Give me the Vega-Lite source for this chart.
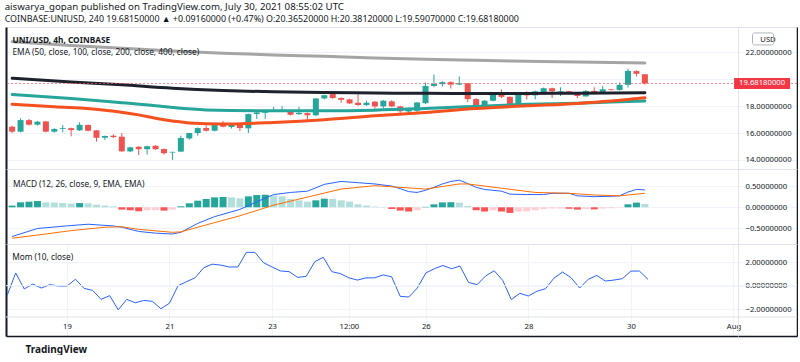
{
  "$schema": "https://vega.github.io/schema/vega-lite/v6.json",
  "background": "white",
  "padding": {"left": 4, "top": 2, "right": 0, "bottom": 0},
  "spacing": 0,
  "bounds": "flush",
  "title": {
    "text": "aiswarya_gopan published on TradingView.com, July 30, 2021 08:55:02 UTC",
    "subtitle": "COINBASE:UNIUSD, 240  19.68150000 ▲ +0.09160000 (+0.47%)  O:20.36520000 H:20.38120000 L:19.59070000 C:19.68180000",
    "anchor": "start", "fontSize": 9.7, "fontWeight": "normal", "color": "#131722",
    "subtitleFontSize": 8.9, "subtitleColor": "#131722", "subtitlePadding": 3, "offset": 2.5
  },
  "datasets": {
    "candles": [
      {"t":"2021-07-17T20:00Z","o":16.47,"h":16.55,"l":16.0,"c":16.1},
      {"t":"2021-07-18T00:00Z","o":16.1,"h":17.1,"l":16.05,"c":16.96},
      {"t":"2021-07-18T04:00Z","o":16.96,"h":17.05,"l":16.55,"c":16.62},
      {"t":"2021-07-18T08:00Z","o":16.62,"h":16.9,"l":16.55,"c":16.84},
      {"t":"2021-07-18T12:00Z","o":16.86,"h":16.9,"l":16.05,"c":16.1},
      {"t":"2021-07-18T16:00Z","o":16.1,"h":16.36,"l":16.02,"c":16.3},
      {"t":"2021-07-18T20:00Z","o":16.3,"h":16.6,"l":16.05,"c":16.36},
      {"t":"2021-07-19T00:00Z","o":16.36,"h":16.4,"l":15.76,"c":16.22},
      {"t":"2021-07-19T04:00Z","o":16.2,"h":16.8,"l":16.15,"c":16.61},
      {"t":"2021-07-19T08:00Z","o":16.6,"h":16.64,"l":16.12,"c":16.17},
      {"t":"2021-07-19T12:00Z","o":16.2,"h":16.22,"l":15.36,"c":15.65},
      {"t":"2021-07-19T16:00Z","o":15.65,"h":15.82,"l":15.48,"c":15.78},
      {"t":"2021-07-19T20:00Z","o":15.8,"h":15.9,"l":15.62,"c":15.7},
      {"t":"2021-07-20T00:00Z","o":15.73,"h":16.0,"l":14.6,"c":14.64},
      {"t":"2021-07-20T04:00Z","o":14.64,"h":14.98,"l":14.58,"c":14.94},
      {"t":"2021-07-20T08:00Z","o":14.98,"h":15.02,"l":14.37,"c":14.8},
      {"t":"2021-07-20T12:00Z","o":14.8,"h":15.06,"l":14.4,"c":15.02},
      {"t":"2021-07-20T16:00Z","o":15.05,"h":15.1,"l":14.75,"c":14.8},
      {"t":"2021-07-20T20:00Z","o":14.81,"h":14.86,"l":14.4,"c":14.5},
      {"t":"2021-07-21T00:00Z","o":14.55,"h":14.62,"l":14.0,"c":14.6},
      {"t":"2021-07-21T04:00Z","o":14.62,"h":15.8,"l":14.58,"c":15.63},
      {"t":"2021-07-21T08:00Z","o":15.6,"h":16.02,"l":15.5,"c":16.0},
      {"t":"2021-07-21T12:00Z","o":16.0,"h":16.42,"l":15.8,"c":16.37},
      {"t":"2021-07-21T16:00Z","o":16.37,"h":16.55,"l":16.12,"c":16.17},
      {"t":"2021-07-21T20:00Z","o":16.17,"h":16.72,"l":16.12,"c":16.67},
      {"t":"2021-07-22T00:00Z","o":16.67,"h":16.9,"l":16.42,"c":16.47},
      {"t":"2021-07-22T04:00Z","o":16.45,"h":16.66,"l":16.33,"c":16.6},
      {"t":"2021-07-22T08:00Z","o":16.65,"h":16.7,"l":16.15,"c":16.37},
      {"t":"2021-07-22T12:00Z","o":16.35,"h":17.45,"l":16.0,"c":17.41},
      {"t":"2021-07-22T16:00Z","o":17.41,"h":17.58,"l":17.04,"c":17.53},
      {"t":"2021-07-22T20:00Z","o":17.5,"h":17.65,"l":17.05,"c":17.6},
      {"t":"2021-07-23T00:00Z","o":17.6,"h":17.95,"l":17.55,"c":17.68},
      {"t":"2021-07-23T04:00Z","o":17.65,"h":18.0,"l":17.6,"c":17.7},
      {"t":"2021-07-23T08:00Z","o":17.68,"h":17.72,"l":17.3,"c":17.36},
      {"t":"2021-07-23T12:00Z","o":17.4,"h":17.95,"l":17.35,"c":17.5},
      {"t":"2021-07-23T16:00Z","o":17.48,"h":17.52,"l":16.9,"c":17.32},
      {"t":"2021-07-23T20:00Z","o":17.32,"h":18.6,"l":17.25,"c":18.57},
      {"t":"2021-07-24T00:00Z","o":18.57,"h":18.85,"l":18.5,"c":18.81},
      {"t":"2021-07-24T04:00Z","o":18.89,"h":19.05,"l":18.55,"c":18.6},
      {"t":"2021-07-24T08:00Z","o":18.6,"h":18.65,"l":18.25,"c":18.47},
      {"t":"2021-07-24T12:00Z","o":18.5,"h":18.55,"l":18.15,"c":18.2},
      {"t":"2021-07-24T16:00Z","o":18.25,"h":18.89,"l":18.02,"c":18.08},
      {"t":"2021-07-24T20:00Z","o":18.08,"h":18.4,"l":18.02,"c":18.25},
      {"t":"2021-07-25T00:00Z","o":18.33,"h":18.38,"l":17.78,"c":17.98},
      {"t":"2021-07-25T04:00Z","o":17.98,"h":18.45,"l":17.85,"c":18.4},
      {"t":"2021-07-25T08:00Z","o":18.35,"h":18.45,"l":17.92,"c":17.98},
      {"t":"2021-07-25T12:00Z","o":17.98,"h":18.02,"l":17.5,"c":17.62},
      {"t":"2021-07-25T16:00Z","o":17.6,"h":17.9,"l":17.5,"c":17.77},
      {"t":"2021-07-25T20:00Z","o":17.65,"h":18.3,"l":17.55,"c":18.27},
      {"t":"2021-07-26T00:00Z","o":18.22,"h":19.75,"l":18.15,"c":19.5},
      {"t":"2021-07-26T04:00Z","o":19.5,"h":20.35,"l":19.4,"c":19.65},
      {"t":"2021-07-26T08:00Z","o":19.63,"h":19.85,"l":19.45,"c":19.78},
      {"t":"2021-07-26T12:00Z","o":19.78,"h":19.85,"l":19.3,"c":19.6},
      {"t":"2021-07-26T16:00Z","o":19.6,"h":20.2,"l":19.55,"c":19.7},
      {"t":"2021-07-26T20:00Z","o":19.7,"h":19.72,"l":18.3,"c":18.52},
      {"t":"2021-07-27T00:00Z","o":18.52,"h":18.6,"l":17.73,"c":18.02},
      {"t":"2021-07-27T04:00Z","o":18.02,"h":18.45,"l":17.95,"c":18.4},
      {"t":"2021-07-27T08:00Z","o":18.4,"h":19.05,"l":18.35,"c":18.99},
      {"t":"2021-07-27T12:00Z","o":18.99,"h":19.24,"l":18.6,"c":18.69},
      {"t":"2021-07-27T16:00Z","o":18.69,"h":18.72,"l":18.05,"c":18.15},
      {"t":"2021-07-27T20:00Z","o":18.15,"h":18.95,"l":18.1,"c":18.89},
      {"t":"2021-07-28T00:00Z","o":18.89,"h":19.1,"l":18.5,"c":18.8},
      {"t":"2021-07-28T04:00Z","o":18.8,"h":19.15,"l":18.5,"c":19.1},
      {"t":"2021-07-28T08:00Z","o":19.05,"h":19.38,"l":19.0,"c":19.33},
      {"t":"2021-07-28T12:00Z","o":19.33,"h":19.38,"l":18.6,"c":19.1},
      {"t":"2021-07-28T16:00Z","o":19.05,"h":19.4,"l":18.75,"c":19.1},
      {"t":"2021-07-28T20:00Z","o":19.1,"h":19.15,"l":18.9,"c":18.95},
      {"t":"2021-07-29T00:00Z","o":18.97,"h":19.0,"l":18.6,"c":18.75},
      {"t":"2021-07-29T04:00Z","o":18.72,"h":19.2,"l":18.7,"c":19.13},
      {"t":"2021-07-29T08:00Z","o":19.13,"h":19.4,"l":18.9,"c":18.95},
      {"t":"2021-07-29T12:00Z","o":18.95,"h":19.5,"l":18.9,"c":19.25},
      {"t":"2021-07-29T16:00Z","o":19.25,"h":19.28,"l":19.15,"c":19.2},
      {"t":"2021-07-29T20:00Z","o":19.2,"h":19.75,"l":19.15,"c":19.58},
      {"t":"2021-07-30T00:00Z","o":19.58,"h":20.78,"l":19.38,"c":20.62},
      {"t":"2021-07-30T04:00Z","o":20.6,"h":20.66,"l":20.2,"c":20.4},
      {"t":"2021-07-30T08:00Z","o":20.3652,"h":20.3812,"l":19.5907,"c":19.6818}
    ],
    "ema": [
      {"t":"2021-07-17T20:00Z","ema":"EMA 400","v":22.78},
      {"t":"2021-07-19T00:00Z","ema":"EMA 400","v":22.5},
      {"t":"2021-07-20T00:00Z","ema":"EMA 400","v":22.3},
      {"t":"2021-07-21T00:00Z","ema":"EMA 400","v":22.1},
      {"t":"2021-07-22T00:00Z","ema":"EMA 400","v":21.93},
      {"t":"2021-07-23T00:00Z","ema":"EMA 400","v":21.8},
      {"t":"2021-07-24T00:00Z","ema":"EMA 400","v":21.7},
      {"t":"2021-07-25T00:00Z","ema":"EMA 400","v":21.58},
      {"t":"2021-07-26T00:00Z","ema":"EMA 400","v":21.48},
      {"t":"2021-07-27T00:00Z","ema":"EMA 400","v":21.4},
      {"t":"2021-07-28T00:00Z","ema":"EMA 400","v":21.33},
      {"t":"2021-07-29T00:00Z","ema":"EMA 400","v":21.27},
      {"t":"2021-07-30T08:00Z","ema":"EMA 400","v":21.21},
      {"t":"2021-07-17T20:00Z","ema":"EMA 200","v":20.07},
      {"t":"2021-07-19T00:00Z","ema":"EMA 200","v":19.8},
      {"t":"2021-07-20T00:00Z","ema":"EMA 200","v":19.58},
      {"t":"2021-07-21T00:00Z","ema":"EMA 200","v":19.33},
      {"t":"2021-07-22T00:00Z","ema":"EMA 200","v":19.16},
      {"t":"2021-07-23T00:00Z","ema":"EMA 200","v":19.06},
      {"t":"2021-07-24T00:00Z","ema":"EMA 200","v":19.01},
      {"t":"2021-07-25T00:00Z","ema":"EMA 200","v":18.97},
      {"t":"2021-07-26T00:00Z","ema":"EMA 200","v":18.95},
      {"t":"2021-07-27T00:00Z","ema":"EMA 200","v":18.94},
      {"t":"2021-07-28T00:00Z","ema":"EMA 200","v":18.94},
      {"t":"2021-07-29T00:00Z","ema":"EMA 200","v":18.96},
      {"t":"2021-07-30T08:00Z","ema":"EMA 200","v":18.99},
      {"t":"2021-07-17T20:00Z","ema":"EMA 100","v":18.87},
      {"t":"2021-07-19T00:00Z","ema":"EMA 100","v":18.57},
      {"t":"2021-07-20T00:00Z","ema":"EMA 100","v":18.25},
      {"t":"2021-07-20T16:00Z","ema":"EMA 100","v":18.03},
      {"t":"2021-07-21T00:00Z","ema":"EMA 100","v":17.9},
      {"t":"2021-07-21T16:00Z","ema":"EMA 100","v":17.72},
      {"t":"2021-07-23T00:00Z","ema":"EMA 100","v":17.65},
      {"t":"2021-07-24T00:00Z","ema":"EMA 100","v":17.65},
      {"t":"2021-07-25T00:00Z","ema":"EMA 100","v":17.7},
      {"t":"2021-07-26T00:00Z","ema":"EMA 100","v":17.83},
      {"t":"2021-07-27T00:00Z","ema":"EMA 100","v":17.98},
      {"t":"2021-07-28T00:00Z","ema":"EMA 100","v":18.13},
      {"t":"2021-07-29T00:00Z","ema":"EMA 100","v":18.22},
      {"t":"2021-07-29T16:00Z","ema":"EMA 100","v":18.3},
      {"t":"2021-07-30T08:00Z","ema":"EMA 100","v":18.38},
      {"t":"2021-07-17T20:00Z","ema":"EMA 50","v":18.13},
      {"t":"2021-07-18T16:00Z","ema":"EMA 50","v":17.95},
      {"t":"2021-07-19T16:00Z","ema":"EMA 50","v":17.7},
      {"t":"2021-07-20T08:00Z","ema":"EMA 50","v":17.35},
      {"t":"2021-07-20T16:00Z","ema":"EMA 50","v":17.1},
      {"t":"2021-07-21T00:00Z","ema":"EMA 50","v":16.9},
      {"t":"2021-07-21T08:00Z","ema":"EMA 50","v":16.75},
      {"t":"2021-07-22T00:00Z","ema":"EMA 50","v":16.67},
      {"t":"2021-07-23T00:00Z","ema":"EMA 50","v":16.79},
      {"t":"2021-07-24T00:00Z","ema":"EMA 50","v":16.99},
      {"t":"2021-07-25T00:00Z","ema":"EMA 50","v":17.28},
      {"t":"2021-07-26T00:00Z","ema":"EMA 50","v":17.53},
      {"t":"2021-07-27T00:00Z","ema":"EMA 50","v":17.83},
      {"t":"2021-07-28T00:00Z","ema":"EMA 50","v":18.02},
      {"t":"2021-07-29T00:00Z","ema":"EMA 50","v":18.2},
      {"t":"2021-07-29T16:00Z","ema":"EMA 50","v":18.38},
      {"t":"2021-07-30T08:00Z","ema":"EMA 50","v":18.62}
    ],
    "macd": [
      {"t":"2021-07-17T20:00Z","h":0.04,"state":"pos up"},
      {"t":"2021-07-18T00:00Z","h":0.117,"state":"pos up"},
      {"t":"2021-07-18T04:00Z","h":0.133,"state":"pos up"},
      {"t":"2021-07-18T08:00Z","h":0.148,"state":"pos up"},
      {"t":"2021-07-18T12:00Z","h":0.117,"state":"pos down"},
      {"t":"2021-07-18T16:00Z","h":0.11,"state":"pos down"},
      {"t":"2021-07-18T20:00Z","h":0.1,"state":"pos down"},
      {"t":"2021-07-19T00:00Z","h":0.086,"state":"pos down"},
      {"t":"2021-07-19T04:00Z","h":0.1,"state":"pos up"},
      {"t":"2021-07-19T08:00Z","h":0.094,"state":"pos down"},
      {"t":"2021-07-19T12:00Z","h":0.063,"state":"pos down"},
      {"t":"2021-07-19T16:00Z","h":0.04,"state":"pos down"},
      {"t":"2021-07-19T20:00Z","h":0.023,"state":"pos down"},
      {"t":"2021-07-20T00:00Z","h":-0.055,"state":"neg down"},
      {"t":"2021-07-20T04:00Z","h":-0.07,"state":"neg down"},
      {"t":"2021-07-20T08:00Z","h":-0.094,"state":"neg down"},
      {"t":"2021-07-20T12:00Z","h":-0.07,"state":"neg up"},
      {"t":"2021-07-20T16:00Z","h":-0.07,"state":"neg up"},
      {"t":"2021-07-20T20:00Z","h":-0.078,"state":"neg down"},
      {"t":"2021-07-21T00:00Z","h":-0.055,"state":"neg up"},
      {"t":"2021-07-21T04:00Z","h":0.023,"state":"pos up"},
      {"t":"2021-07-21T08:00Z","h":0.094,"state":"pos up"},
      {"t":"2021-07-21T12:00Z","h":0.156,"state":"pos up"},
      {"t":"2021-07-21T16:00Z","h":0.195,"state":"pos up"},
      {"t":"2021-07-21T20:00Z","h":0.234,"state":"pos up"},
      {"t":"2021-07-22T00:00Z","h":0.242,"state":"pos up"},
      {"t":"2021-07-22T04:00Z","h":0.234,"state":"pos down"},
      {"t":"2021-07-22T08:00Z","h":0.21,"state":"pos down"},
      {"t":"2021-07-22T12:00Z","h":0.258,"state":"pos up"},
      {"t":"2021-07-22T16:00Z","h":0.289,"state":"pos up"},
      {"t":"2021-07-22T20:00Z","h":0.297,"state":"pos up"},
      {"t":"2021-07-23T00:00Z","h":0.28,"state":"pos down"},
      {"t":"2021-07-23T04:00Z","h":0.258,"state":"pos down"},
      {"t":"2021-07-23T08:00Z","h":0.195,"state":"pos down"},
      {"t":"2021-07-23T12:00Z","h":0.164,"state":"pos down"},
      {"t":"2021-07-23T16:00Z","h":0.133,"state":"pos down"},
      {"t":"2021-07-23T20:00Z","h":0.164,"state":"pos up"},
      {"t":"2021-07-24T00:00Z","h":0.203,"state":"pos up"},
      {"t":"2021-07-24T04:00Z","h":0.195,"state":"pos down"},
      {"t":"2021-07-24T08:00Z","h":0.164,"state":"pos down"},
      {"t":"2021-07-24T12:00Z","h":0.133,"state":"pos down"},
      {"t":"2021-07-24T16:00Z","h":0.07,"state":"pos down"},
      {"t":"2021-07-24T20:00Z","h":0.04,"state":"pos down"},
      {"t":"2021-07-25T00:00Z","h":0.016,"state":"pos down"},
      {"t":"2021-07-25T04:00Z","h":0.008,"state":"pos down"},
      {"t":"2021-07-25T08:00Z","h":-0.04,"state":"neg down"},
      {"t":"2021-07-25T12:00Z","h":-0.078,"state":"neg down"},
      {"t":"2021-07-25T16:00Z","h":-0.1,"state":"neg down"},
      {"t":"2021-07-25T20:00Z","h":-0.07,"state":"neg up"},
      {"t":"2021-07-26T00:00Z","h":0.01,"state":"pos up"},
      {"t":"2021-07-26T04:00Z","h":0.07,"state":"pos up"},
      {"t":"2021-07-26T08:00Z","h":0.115,"state":"pos up"},
      {"t":"2021-07-26T12:00Z","h":0.12,"state":"pos up"},
      {"t":"2021-07-26T16:00Z","h":0.11,"state":"pos down"},
      {"t":"2021-07-26T20:00Z","h":0.03,"state":"pos down"},
      {"t":"2021-07-27T00:00Z","h":-0.07,"state":"neg down"},
      {"t":"2021-07-27T04:00Z","h":-0.1,"state":"neg down"},
      {"t":"2021-07-27T08:00Z","h":-0.07,"state":"neg up"},
      {"t":"2021-07-27T12:00Z","h":-0.1,"state":"neg down"},
      {"t":"2021-07-27T16:00Z","h":-0.133,"state":"neg down"},
      {"t":"2021-07-27T20:00Z","h":-0.1,"state":"neg up"},
      {"t":"2021-07-28T00:00Z","h":-0.098,"state":"neg up"},
      {"t":"2021-07-28T04:00Z","h":-0.07,"state":"neg up"},
      {"t":"2021-07-28T08:00Z","h":-0.04,"state":"neg up"},
      {"t":"2021-07-28T12:00Z","h":-0.03,"state":"neg up"},
      {"t":"2021-07-28T16:00Z","h":-0.028,"state":"neg up"},
      {"t":"2021-07-28T20:00Z","h":-0.035,"state":"neg down"},
      {"t":"2021-07-29T00:00Z","h":-0.055,"state":"neg down"},
      {"t":"2021-07-29T04:00Z","h":-0.04,"state":"neg up"},
      {"t":"2021-07-29T08:00Z","h":-0.05,"state":"neg down"},
      {"t":"2021-07-29T12:00Z","h":-0.03,"state":"neg up"},
      {"t":"2021-07-29T16:00Z","h":-0.023,"state":"neg up"},
      {"t":"2021-07-29T20:00Z","h":-0.01,"state":"neg up"},
      {"t":"2021-07-30T00:00Z","h":0.07,"state":"pos up"},
      {"t":"2021-07-30T04:00Z","h":0.11,"state":"pos up"},
      {"t":"2021-07-30T08:00Z","h":0.078,"state":"pos down"}
    ],
    "lines": [
      {"t":"2021-07-17T20:00Z","s":"MACD","v":-0.69},
      {"t":"2021-07-18T08:00Z","s":"MACD","v":-0.5},
      {"t":"2021-07-19T00:00Z","s":"MACD","v":-0.43},
      {"t":"2021-07-19T08:00Z","s":"MACD","v":-0.4},
      {"t":"2021-07-19T20:00Z","s":"MACD","v":-0.44},
      {"t":"2021-07-20T00:00Z","s":"MACD","v":-0.47},
      {"t":"2021-07-20T08:00Z","s":"MACD","v":-0.57},
      {"t":"2021-07-20T16:00Z","s":"MACD","v":-0.61},
      {"t":"2021-07-21T00:00Z","s":"MACD","v":-0.63},
      {"t":"2021-07-21T04:00Z","s":"MACD","v":-0.59},
      {"t":"2021-07-21T12:00Z","s":"MACD","v":-0.38},
      {"t":"2021-07-21T20:00Z","s":"MACD","v":-0.22},
      {"t":"2021-07-22T08:00Z","s":"MACD","v":-0.05},
      {"t":"2021-07-22T16:00Z","s":"MACD","v":0.13},
      {"t":"2021-07-23T00:00Z","s":"MACD","v":0.3},
      {"t":"2021-07-23T08:00Z","s":"MACD","v":0.35},
      {"t":"2021-07-23T16:00Z","s":"MACD","v":0.38},
      {"t":"2021-07-23T20:00Z","s":"MACD","v":0.46},
      {"t":"2021-07-24T00:00Z","s":"MACD","v":0.54},
      {"t":"2021-07-24T08:00Z","s":"MACD","v":0.61},
      {"t":"2021-07-24T16:00Z","s":"MACD","v":0.58},
      {"t":"2021-07-25T00:00Z","s":"MACD","v":0.55},
      {"t":"2021-07-25T08:00Z","s":"MACD","v":0.5},
      {"t":"2021-07-25T12:00Z","s":"MACD","v":0.44},
      {"t":"2021-07-25T16:00Z","s":"MACD","v":0.37},
      {"t":"2021-07-25T20:00Z","s":"MACD","v":0.35},
      {"t":"2021-07-26T00:00Z","s":"MACD","v":0.4},
      {"t":"2021-07-26T04:00Z","s":"MACD","v":0.47},
      {"t":"2021-07-26T08:00Z","s":"MACD","v":0.55},
      {"t":"2021-07-26T12:00Z","s":"MACD","v":0.61},
      {"t":"2021-07-26T16:00Z","s":"MACD","v":0.64},
      {"t":"2021-07-26T20:00Z","s":"MACD","v":0.56},
      {"t":"2021-07-27T00:00Z","s":"MACD","v":0.47},
      {"t":"2021-07-27T04:00Z","s":"MACD","v":0.42},
      {"t":"2021-07-27T08:00Z","s":"MACD","v":0.4},
      {"t":"2021-07-27T12:00Z","s":"MACD","v":0.38},
      {"t":"2021-07-27T16:00Z","s":"MACD","v":0.31},
      {"t":"2021-07-28T00:00Z","s":"MACD","v":0.3},
      {"t":"2021-07-28T08:00Z","s":"MACD","v":0.3},
      {"t":"2021-07-28T12:00Z","s":"MACD","v":0.33},
      {"t":"2021-07-28T20:00Z","s":"MACD","v":0.33},
      {"t":"2021-07-29T00:00Z","s":"MACD","v":0.27},
      {"t":"2021-07-29T08:00Z","s":"MACD","v":0.25},
      {"t":"2021-07-29T16:00Z","s":"MACD","v":0.26},
      {"t":"2021-07-29T20:00Z","s":"MACD","v":0.27},
      {"t":"2021-07-30T00:00Z","s":"MACD","v":0.36},
      {"t":"2021-07-30T04:00Z","s":"MACD","v":0.42},
      {"t":"2021-07-30T08:00Z","s":"MACD","v":0.41},
      {"t":"2021-07-17T20:00Z","s":"Signal","v":-0.73},
      {"t":"2021-07-18T12:00Z","s":"Signal","v":-0.63},
      {"t":"2021-07-19T00:00Z","s":"Signal","v":-0.55},
      {"t":"2021-07-19T16:00Z","s":"Signal","v":-0.47},
      {"t":"2021-07-20T00:00Z","s":"Signal","v":-0.46},
      {"t":"2021-07-20T08:00Z","s":"Signal","v":-0.52},
      {"t":"2021-07-21T00:00Z","s":"Signal","v":-0.59},
      {"t":"2021-07-21T04:00Z","s":"Signal","v":-0.58},
      {"t":"2021-07-21T12:00Z","s":"Signal","v":-0.47},
      {"t":"2021-07-22T08:00Z","s":"Signal","v":-0.2},
      {"t":"2021-07-23T00:00Z","s":"Signal","v":0.05},
      {"t":"2021-07-23T16:00Z","s":"Signal","v":0.24},
      {"t":"2021-07-24T08:00Z","s":"Signal","v":0.43},
      {"t":"2021-07-25T00:00Z","s":"Signal","v":0.51},
      {"t":"2021-07-25T12:00Z","s":"Signal","v":0.47},
      {"t":"2021-07-26T00:00Z","s":"Signal","v":0.43},
      {"t":"2021-07-26T16:00Z","s":"Signal","v":0.55},
      {"t":"2021-07-26T20:00Z","s":"Signal","v":0.55},
      {"t":"2021-07-27T12:00Z","s":"Signal","v":0.45},
      {"t":"2021-07-28T04:00Z","s":"Signal","v":0.35},
      {"t":"2021-07-28T20:00Z","s":"Signal","v":0.33},
      {"t":"2021-07-29T08:00Z","s":"Signal","v":0.29},
      {"t":"2021-07-29T20:00Z","s":"Signal","v":0.27},
      {"t":"2021-07-30T08:00Z","s":"Signal","v":0.33}
    ],
    "mom": [
      {"t":"2021-07-17T20:00Z","v":-0.85},{"t":"2021-07-18T00:00Z","v":1.09},{"t":"2021-07-18T04:00Z","v":-0.28},
      {"t":"2021-07-18T08:00Z","v":0.14},{"t":"2021-07-18T12:00Z","v":-0.2},{"t":"2021-07-18T16:00Z","v":0.09},
      {"t":"2021-07-18T20:00Z","v":-0.03},{"t":"2021-07-19T00:00Z","v":-0.03},{"t":"2021-07-19T04:00Z","v":0.55},
      {"t":"2021-07-19T08:00Z","v":-0.23},{"t":"2021-07-19T12:00Z","v":-0.4},{"t":"2021-07-19T16:00Z","v":-1.17},
      {"t":"2021-07-19T20:00Z","v":-0.85},{"t":"2021-07-20T00:00Z","v":-2.06},{"t":"2021-07-20T04:00Z","v":-1.17},
      {"t":"2021-07-20T08:00Z","v":-1.46},{"t":"2021-07-20T12:00Z","v":-1.26},{"t":"2021-07-20T16:00Z","v":-1.34},
      {"t":"2021-07-20T20:00Z","v":-1.97},{"t":"2021-07-21T00:00Z","v":-1.49},{"t":"2021-07-21T04:00Z","v":0.0},
      {"t":"2021-07-21T08:00Z","v":0.34},{"t":"2021-07-21T12:00Z","v":0.68},{"t":"2021-07-21T16:00Z","v":1.53},
      {"t":"2021-07-21T20:00Z","v":1.84},{"t":"2021-07-22T00:00Z","v":1.76},{"t":"2021-07-22T04:00Z","v":1.6},
      {"t":"2021-07-22T08:00Z","v":1.6},{"t":"2021-07-22T12:00Z","v":2.85},{"t":"2021-07-22T16:00Z","v":2.85},
      {"t":"2021-07-22T20:00Z","v":1.97},{"t":"2021-07-23T00:00Z","v":1.6},{"t":"2021-07-23T04:00Z","v":1.26},
      {"t":"2021-07-23T08:00Z","v":1.2},{"t":"2021-07-23T12:00Z","v":0.71},{"t":"2021-07-23T16:00Z","v":0.8},
      {"t":"2021-07-23T20:00Z","v":2.05},{"t":"2021-07-24T00:00Z","v":2.43},{"t":"2021-07-24T04:00Z","v":1.2},
      {"t":"2021-07-24T08:00Z","v":1.03},{"t":"2021-07-24T12:00Z","v":0.67},{"t":"2021-07-24T16:00Z","v":0.48},
      {"t":"2021-07-24T20:00Z","v":0.67},{"t":"2021-07-25T00:00Z","v":0.67},{"t":"2021-07-25T04:00Z","v":0.92},
      {"t":"2021-07-25T08:00Z","v":0.76},{"t":"2021-07-25T12:00Z","v":-0.91},{"t":"2021-07-25T16:00Z","v":-0.97},
      {"t":"2021-07-25T20:00Z","v":-0.2},{"t":"2021-07-26T00:00Z","v":1.09},{"t":"2021-07-26T04:00Z","v":1.45},
      {"t":"2021-07-26T08:00Z","v":1.73},{"t":"2021-07-26T12:00Z","v":1.45},{"t":"2021-07-26T16:00Z","v":1.68},
      {"t":"2021-07-26T20:00Z","v":0.28},{"t":"2021-07-27T00:00Z","v":0.09},{"t":"2021-07-27T04:00Z","v":0.83},
      {"t":"2021-07-27T08:00Z","v":1.28},{"t":"2021-07-27T12:00Z","v":0.45},{"t":"2021-07-27T16:00Z","v":-1.19},
      {"t":"2021-07-27T20:00Z","v":-0.65},{"t":"2021-07-28T00:00Z","v":-0.88},{"t":"2021-07-28T04:00Z","v":-0.48},
      {"t":"2021-07-28T08:00Z","v":-0.26},{"t":"2021-07-28T12:00Z","v":0.65},{"t":"2021-07-28T16:00Z","v":1.17},
      {"t":"2021-07-28T20:00Z","v":0.68},{"t":"2021-07-29T00:00Z","v":-0.2},{"t":"2021-07-29T04:00Z","v":0.54},
      {"t":"2021-07-29T08:00Z","v":0.88},{"t":"2021-07-29T12:00Z","v":0.4},{"t":"2021-07-29T16:00Z","v":0.48},
      {"t":"2021-07-29T20:00Z","v":0.6},{"t":"2021-07-30T00:00Z","v":1.25},{"t":"2021-07-30T04:00Z","v":1.25},
      {"t":"2021-07-30T08:00Z","v":0.54}
    ]
  },
  "resolve": {"scale": {"x": "independent", "y": "independent", "color": "independent"}},
  "vconcat": [
    {
      "width": 791, "height": 142,
      "title": {
        "text": "UNI/USD, 4h, COINBASE", "subtitle": "EMA (50, close, 100, close, 200, close, 400, close)",
        "anchor": "start", "offset": -29, "dx": 7, "fontSize": 8.3, "fontWeight": "bold", "color": "#131722",
        "subtitleFontSize": 8.3, "subtitleColor": "#131722", "subtitlePadding": 3
      },
      "resolve": {"axis": {"y": "independent"}},
      "layer": [
        {
          "data": {"name": "candles"},
          "mark": {"type": "rule", "strokeWidth": 1},
          "encoding": {
            "x": {"field": "t", "type": "temporal",
              "scale": {"type": "utc", "domain": [{"year":2021,"month":7,"date":17,"hours":19,"minutes":28,"utc":true},{"year":2021,"month":8,"date":2,"hours":5,"minutes":45,"utc":true}]},
              "axis": {"orient": "top", "values": [{"year":2021,"month":7,"date":19,"utc":true},{"year":2021,"month":7,"date":21,"utc":true},{"year":2021,"month":7,"date":23,"utc":true},{"year":2021,"month":7,"date":24,"hours":12,"utc":true},{"year":2021,"month":7,"date":26,"utc":true},{"year":2021,"month":7,"date":28,"utc":true},{"year":2021,"month":7,"date":30,"utc":true},{"year":2021,"month":8,"date":1,"utc":true}],
                "labels": false, "ticks": false, "domain": true, "domainColor": "#5D606B", "domainWidth": 2, "grid": true, "gridColor": "#F0F3FA", "title": null}},
            "y": {"field": "l", "type": "quantitative", "scale": {"domain": [13.328, 23.878], "zero": false, "nice": false},
              "axis": {"orient": "right", "offset": -59, "values": [14, 16, 18, 20, 22], "format": ".8f",
                "labelExpr": "datum.value == 20 ? '' : datum.label", "ticks": false,
                "labelPadding": 7, "labelAlign": "left", "labelBaseline": "middle", "labelFontSize": 7.7, "labelColor": "#131722",
                "labelOverlap": false, "labelFlush": false, "domain": true, "domainColor": "#E0E3EB", "grid": true, "gridColor": "#F0F3FA",
                "title": "USD", "titleAngle": 0, "titleX": 29.5, "titleY": 12, "titleAlign": "center", "titleBaseline": "middle",
                "titleFontSize": 7.7, "titleFontWeight": "normal", "titleColor": "#131722"}},
            "y2": {"field": "h"},
            "color": {"condition": {"test": "datum.c >= datum.o", "value": "#26A69A"}, "value": "#EF5350"}
          }
        },
        {
          "data": {"name": "candles"},
          "mark": {"type": "bar", "width": 6},
          "encoding": {
            "x": {"field": "t", "type": "temporal", "axis": null},
            "y": {"field": "o", "type": "quantitative", "axis": {"orient": "left", "labels": false, "ticks": false, "grid": false, "domain": true, "domainColor": "#131722", "domainWidth": 2, "title": null}},
            "y2": {"field": "c"},
            "color": {"condition": {"test": "datum.c >= datum.o", "value": "#26A69A"}, "value": "#EF5350"}
          }
        },
        {
          "data": {"name": "ema"},
          "mark": {"type": "line", "strokeWidth": 3, "interpolate": "monotone", "strokeCap": "round"},
          "encoding": {
            "x": {"field": "t", "type": "temporal", "axis": null},
            "y": {"field": "v", "type": "quantitative", "axis": {"orient": "right", "labels": false, "ticks": false, "grid": false, "domain": true, "domainColor": "#131722", "domainWidth": 1.5, "title": null}},
            "color": {"field": "ema", "type": "nominal", "legend": null,
              "scale": {"domain": ["EMA 400", "EMA 200", "EMA 100", "EMA 50"], "range": ["#A5A5A5", "#1E222D", "#26A69A", "#F4511E"]}}
          }
        },
        {
          "data": {"name": "candles"},
          "transform": [{"window": [{"op": "row_number", "as": "rn"}], "sort": [{"field": "t", "order": "descending"}]}, {"filter": "datum.rn == 1"}],
          "mark": {"type": "rule", "strokeDash": [2, 2], "color": "#F7525F", "strokeWidth": 1, "opacity": 0.7},
          "encoding": {"y": {"field": "c", "type": "quantitative", "axis": null}}
        },
        {
          "data": {"name": "candles"},
          "transform": [{"window": [{"op": "row_number", "as": "rn"}], "sort": [{"field": "t", "order": "descending"}]}, {"filter": "datum.rn == 1"}],
          "mark": {"type": "tick", "orient": "horizontal", "size": 56, "thickness": 11, "color": "#F23645", "opacity": 1},
          "encoding": {
            "x": {"datum": {"year":2021,"month":8,"date":1,"hours":15,"minutes":34,"utc":true}, "type": "temporal", "axis": null},
            "y": {"field": "c", "type": "quantitative", "axis": null}
          }
        },
        {
          "data": {"name": "candles"},
          "transform": [{"window": [{"op": "row_number", "as": "rn"}], "sort": [{"field": "t", "order": "descending"}]}, {"filter": "datum.rn == 1"}],
          "mark": {"type": "text", "color": "white", "fontSize": 7.7, "align": "center", "baseline": "middle"},
          "encoding": {
            "x": {"datum": {"year":2021,"month":8,"date":1,"hours":15,"minutes":34,"utc":true}, "type": "temporal", "axis": null},
            "y": {"field": "c", "type": "quantitative", "axis": null},
            "text": {"field": "c", "type": "quantitative", "format": ".8f"}
          }
        },
        {
          "data": {"values": [{}]},
          "mark": {"type": "tick", "orient": "horizontal", "size": 21, "thickness": 12, "fillOpacity": 0, "stroke": "#B2B5BE", "strokeWidth": 1, "cornerRadius": 2, "opacity": 1},
          "encoding": {
            "x": {"datum": {"year":2021,"month":8,"date":1,"hours":16,"minutes":0,"utc":true}, "type": "temporal", "axis": null},
            "y": {"datum": 22.99, "type": "quantitative", "axis": null}
          }
        }
      ]
    },
    {
      "width": 791, "height": 75,
      "title": {"text": "MACD (12, 26, close, 9, EMA, EMA)", "anchor": "start", "offset": -19, "dx": 7, "fontSize": 8.3, "fontWeight": "normal", "color": "#131722"},
      "resolve": {"axis": {"y": "independent"}},
      "layer": [
        {
          "data": {"name": "macd"},
          "mark": {"type": "bar", "width": 7},
          "encoding": {
            "x": {"field": "t", "type": "temporal",
              "scale": {"type": "utc", "domain": [{"year":2021,"month":7,"date":17,"hours":19,"minutes":28,"utc":true},{"year":2021,"month":8,"date":2,"hours":5,"minutes":45,"utc":true}]},
              "axis": {"values": [{"year":2021,"month":7,"date":19,"utc":true},{"year":2021,"month":7,"date":21,"utc":true},{"year":2021,"month":7,"date":23,"utc":true},{"year":2021,"month":7,"date":24,"hours":12,"utc":true},{"year":2021,"month":7,"date":26,"utc":true},{"year":2021,"month":7,"date":28,"utc":true},{"year":2021,"month":7,"date":30,"utc":true},{"year":2021,"month":8,"date":1,"utc":true}],
                "labels": false, "ticks": false, "domain": false, "grid": true, "gridColor": "#F0F3FA", "title": null}},
            "y": {"field": "h", "type": "quantitative", "scale": {"domain": [-0.866, 0.903], "nice": false},
              "axis": {"orient": "right", "offset": -59, "values": [-0.5, 0, 0.5], "format": ".8f", "ticks": false,
                "labelPadding": 7, "labelAlign": "left", "labelBaseline": "middle", "labelFontSize": 7.7, "labelColor": "#131722",
                "labelOverlap": false, "labelFlush": false, "domain": true, "domainColor": "#E0E3EB", "grid": true, "gridColor": "#F0F3FA", "title": null}},
            "color": {"field": "state", "type": "nominal", "legend": null,
              "scale": {"domain": ["pos up", "pos down", "neg down", "neg up"], "range": ["#26A69A", "#B2DFDB", "#FF5252", "#FFCDD2"]}}
          }
        },
        {
          "data": {"name": "lines"},
          "transform": [{"filter": "datum.s == 'MACD'"}],
          "mark": {"type": "line", "color": "#2962FF", "strokeWidth": 1},
          "encoding": {
            "x": {"field": "t", "type": "temporal", "axis": null},
            "y": {"field": "v", "type": "quantitative", "axis": {"orient": "left", "labels": false, "ticks": false, "grid": false, "domain": true, "domainColor": "#131722", "domainWidth": 2, "title": null}}
          }
        },
        {
          "data": {"name": "lines"},
          "transform": [{"filter": "datum.s == 'Signal'"}],
          "mark": {"type": "line", "color": "#FF6D00", "strokeWidth": 1},
          "encoding": {
            "x": {"field": "t", "type": "temporal", "axis": null},
            "y": {"field": "v", "type": "quantitative", "axis": {"orient": "right", "labels": false, "ticks": false, "grid": false, "domain": true, "domainColor": "#131722", "domainWidth": 1.5, "title": null}}
          }
        }
      ]
    },
    {
      "width": 791, "height": 92,
      "title": {"text": "Mom (10, close)", "anchor": "start", "offset": -17, "dx": 7, "fontSize": 8.3, "fontWeight": "normal", "color": "#131722"},
      "resolve": {"axis": {"y": "independent"}},
      "layer": [
        {
          "data": {"name": "mom"},
          "mark": {"type": "line", "color": "#2962FF", "strokeWidth": 1},
          "encoding": {
            "x": {"field": "t", "type": "temporal",
              "scale": {"type": "utc", "domain": [{"year":2021,"month":7,"date":17,"hours":19,"minutes":28,"utc":true},{"year":2021,"month":8,"date":2,"hours":5,"minutes":45,"utc":true}]},
              "axis": {"orient": "bottom", "values": [{"year":2021,"month":7,"date":19,"utc":true},{"year":2021,"month":7,"date":21,"utc":true},{"year":2021,"month":7,"date":23,"utc":true},{"year":2021,"month":7,"date":24,"hours":12,"utc":true},{"year":2021,"month":7,"date":26,"utc":true},{"year":2021,"month":7,"date":28,"utc":true},{"year":2021,"month":7,"date":30,"utc":true},{"year":2021,"month":8,"date":1,"utc":true}],
                "labelExpr": "utchours(datum.value) == 12 ? '12:00' : (utcmonth(datum.value) == 7 ? 'Aug' : utcFormat(datum.value, '%d'))",
                "ticks": false, "labelPadding": -9.5, "labelBaseline": "middle", "labelFontSize": 7.7, "labelColor": "#131722",
                "labelFlush": false, "labelOverlap": false, "domain": true, "domainColor": "#131722", "domainWidth": 1.5,
                "grid": true, "gridColor": "#F0F3FA",
                "title": "TradingView", "titleX": 19, "titleY": 13, "titleAlign": "left", "titleBaseline": "middle",
                "titleFontSize": 10, "titleFontWeight": "bold", "titleColor": "#131722"}},
            "y": {"field": "v", "type": "quantitative", "scale": {"domain": [-4.3, 3.564], "nice": false},
              "axis": {"orient": "right", "offset": -59, "values": [-2, 0, 2], "format": ".8f", "ticks": false,
                "labelPadding": 7, "labelAlign": "left", "labelBaseline": "middle", "labelFontSize": 7.7, "labelColor": "#131722",
                "labelOverlap": false, "labelFlush": false, "domain": true, "domainColor": "#E0E3EB", "grid": true, "gridColor": "#F0F3FA", "title": null}}
          }
        },
        {
          "data": {"values": [{}]},
          "mark": {"type": "rule", "color": "#F0F3FA", "strokeWidth": 1},
          "encoding": {
            "y": {"datum": 0, "type": "quantitative", "axis": {"orient": "left", "labels": false, "ticks": false, "grid": false, "domain": true, "domainColor": "#131722", "domainWidth": 2, "title": null}}
          }
        },
        {
          "data": {"values": [{}]},
          "mark": {"type": "rule", "color": "#E0E3EB", "strokeWidth": 1},
          "encoding": {
            "y": {"datum": -2.675, "type": "quantitative", "axis": {"orient": "right", "labels": false, "ticks": false, "grid": false, "domain": true, "domainColor": "#131722", "domainWidth": 1.5, "title": null}}
          }
        }
      ]
    }
  ],
  "config": {
    "font": "Noto Sans",
    "view": {"stroke": "#E0E3EB", "strokeWidth": 1},
    "axis": {"labelFont": "Noto Sans", "titleFont": "Noto Sans"},
    "title": {"font": "Noto Sans", "subtitleFont": "Noto Sans"}
  }
}
